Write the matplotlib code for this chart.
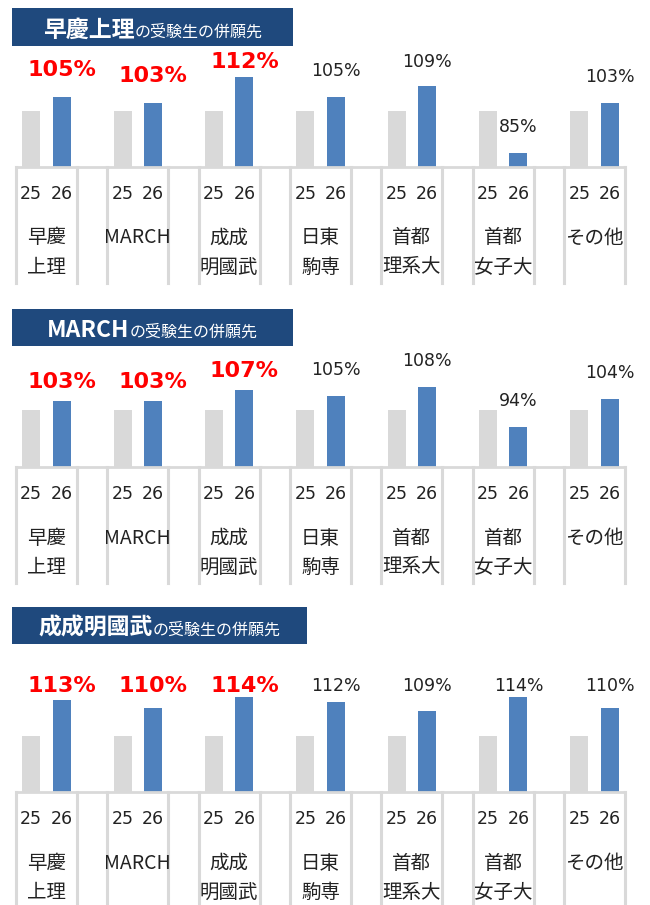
import matplotlib
matplotlib.use('Agg')
import matplotlib.pyplot as plt
from matplotlib.patches import Rectangle

plt.rcParams['font.family'] = ['Noto Sans CJK JP', 'DejaVu Sans']

# data
groups = ['早慶\n上理', 'MARCH', '成成\n明國武', '日東\n駒専', '首都\n理系大', '首都\n女子大', 'その他']
years = ['25', '26']
titles = ['早慶上理', 'MARCH', '成成明國武']
title_suffix = 'の受験生の併願先'
base_25 = [100, 100, 100, 100, 100, 100, 100]
ratio_soukei = [105, 103, 112, 105, 109, 85, 103]
ratio_march = [103, 103, 107, 105, 108, 94, 104]
ratio_seisei = [113, 110, 114, 112, 109, 114, 110]
highlight = [True, True, True, False, False, False, False]

GRAY = '#D9D9D9'
BLUE = '#4F81BD'
NAVY = '#1F497D'
LINE = '#D9D9D9'
NUM_FONT = ['DejaVu Sans']
Y0 = 80  # value at axis line

W, H = 650, 905
fig = plt.figure(figsize=(W / 100, H / 100), dpi=100)


def fx(px):
    return px / W


def fy(py):
    return 1 - py / H


# panel layout in pixels
panels = [
    dict(title=titles[0], values=ratio_soukei, box=(12, 8, 293, 46), axis=167, bottom=283,
         scale=2.8, cap=62, red_off=27),
    dict(title=titles[1], values=ratio_march, box=(12, 309, 293, 346), axis=467, bottom=583,
         scale=2.85, cap=360, red_off=19),
    dict(title=titles[2], values=ratio_seisei, box=(12, 607, 307, 644), axis=792, bottom=905,
         scale=2.8, cap=686, red_off=26),
]

renderer = fig.canvas.get_renderer()
x_left, x_right = 16, 625
n_slots = 3 * len(groups) - 1

for p in panels:
    # title box
    bx0, by0, bx1, by1 = p['box']
    fig.patches.append(Rectangle((fx(bx0), fy(by1)), fx(bx1 - bx0), (by1 - by0) / H,
                                 transform=fig.transFigure, facecolor=NAVY, edgecolor='none'))
    base_y = fy(by1 - 9)
    t1 = fig.text(0, base_y, p['title'], color='white', fontsize=16.5, fontweight='bold',
                  ha='left', va='baseline')
    t2 = fig.text(0, base_y, title_suffix, color='white', fontsize=11.5,
                  ha='left', va='baseline')
    w1 = t1.get_window_extent(renderer).width
    w2 = t2.get_window_extent(renderer).width
    start = (bx0 + bx1) / 2 - (w1 + w2) / 2
    t1.set_x(fx(start))
    t2.set_x(fx(start + w1))

    # chart axes
    top = by1 + 4
    sc = p['scale']
    ax = fig.add_axes([fx(x_left), fy(p['bottom']), fx(x_right - x_left), (p['bottom'] - top) / H])
    lo = Y0 - (p['bottom'] - p['axis']) / sc
    hi = Y0 + (p['axis'] - top) / sc
    ax.set_xlim(0, n_slots)
    ax.set_ylim(lo, hi)
    ax.axis('off')

    xs25 = [3 * i + 0.5 for i in range(len(groups))]
    xs26 = [3 * i + 1.5 for i in range(len(groups))]
    ax.bar(xs25, [v - Y0 for v in base_25], bottom=Y0, width=0.59, color=GRAY)
    ax.bar(xs26, [v - Y0 for v in p['values']], bottom=Y0, width=0.59, color=BLUE)

    # axis + category table lines
    ax.plot([0, n_slots], [Y0, Y0], color=LINE, lw=2, clip_on=False, solid_capstyle='butt')
    for i in range(len(groups)):
        for b in (3 * i, 3 * i + 2):
            ax.plot([b, b], [lo, Y0], color=LINE, lw=2.2, clip_on=False)

    # value labels
    ycap = Y0 + (p['axis'] - p['cap']) / sc
    for x, v, hl in zip(xs26, p['values'], highlight):
        if hl:
            yl = min(v + p['red_off'] / sc, ycap)
            ax.text(x, yl, f'{v}%', color='#FF0000', fontsize=16, fontweight='bold',
                    family=NUM_FONT, ha='center', va='center')
        else:
            yl = min(v + 26 / sc, ycap)
            ax.text(x, yl, f'{v}%', color='#222222', fontsize=12.5, family=NUM_FONT,
                    ha='center', va='center')

    # category labels
    for i, g in enumerate(groups):
        for x, yr in zip((xs25[i], xs26[i]), years):
            ax.text(x, Y0 - 27 / sc, yr, color='#222222', fontsize=12.5, family=NUM_FONT,
                    ha='center', va='center')
        for k, line in enumerate(g.split('\n')):
            ax.text(3 * i + 1, Y0 - (71 + 29 * k) / sc, line, color='#222222', fontsize=14,
                    ha='center', va='center')

fig.savefig('out.png', dpi=100)
